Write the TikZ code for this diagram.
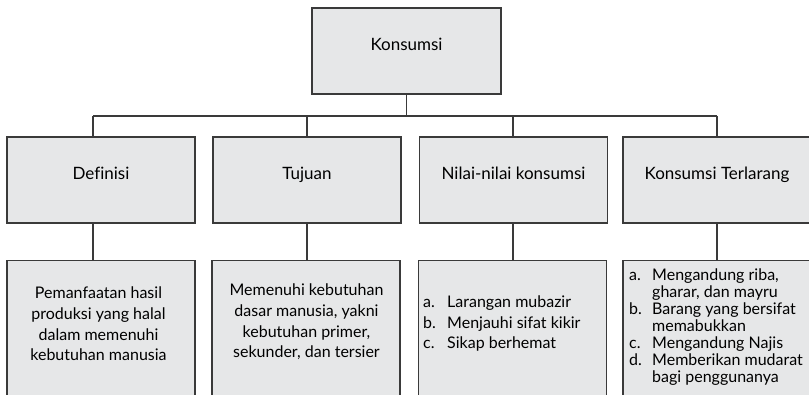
\documentclass[tikz,border=0pt]{standalone}
\usepackage{fontspec}
\setmainfont{Lato}[Ligatures=NoCommon]
\definecolor{boxfill}{RGB}{230,231,232}
\definecolor{boxline}{RGB}{58,58,58}
\tikzset{
  box/.style={draw=boxline, fill=boxfill, line width=1.2pt, minimum width=188pt,
    minimum height=86pt, inner sep=0pt, text height=12pt, text depth=13pt,
    font=\fontsize{17}{20}\selectfont},
  isibox/.style={box, minimum height=140pt, anchor=north},
  isi/.style={inner sep=0pt, align=center},
  link/.style={draw=boxline, line width=1.2pt},
}
\begin{document}
\begin{tikzpicture}[x=1pt,y=1pt,yscale=-1,xscale=1,font=\fontsize{16}{20.7}\selectfont]
\useasboundingbox (0,0) rectangle (809,395);
\clip (0,0) rectangle (809,395);
\fill [white] (0,0) rectangle (809,395);
% tingkat atas
\node [box, minimum width=189pt] (kons) at (406.5,51) {Konsumsi};
% tingkat kedua
\node [box] (def) at (101,180) {Definisi};
\node [box] (tuj) at (307,180) {Tujuan};
\node [box] (nil) at (513.5,180) {Nilai-nilai konsumsi};
\node [box] (lar) at (717,180) {Konsumsi Terlarang};
% tingkat ketiga
\node [isibox] (def2) at (101,260) {};
\node [isibox] (tuj2) at (306,260) {};
\node [isibox] (nil2) at (512.5,260) {};
\node [isibox] (lar2) at (717,260) {};
\coordinate (c1) at (93,116);
\coordinate (c2) at (307,116);
\coordinate (c3) at (513,116);
\coordinate (c4) at (717,116);
\draw [link] (c1) -- (c4);
\draw [link] (kons.south) -- (kons.south |- c1);
\draw [link] (c1) -- (c1 |- def.north);
\draw [link] (c2) -- (c2 |- tuj.north);
\draw [link] (c3) -- (c3 |- nil.north);
\draw [link] (c4) -- (c4 |- lar.north);
\draw [link] (def.south -| c1) -- (def2.north -| c1);
\draw [link] (tuj.south -| c2) -- (tuj2.north -| c2);
\draw [link] (nil.south -| c3) -- (nil2.north -| c3);
\draw [link] (lar.south -| c4) -- (lar2.north -| c4);
% isi
\node [isi] (t1) at (98.5,324) {Pemanfaatan hasil\\produksi yang halal\\dalam memenuhi\\kebutuhan manusia};
\node [isi] (t2) at (306.5,322) {Memenuhi kebutuhan\\dasar manusia, yakni\\kebutuhan primer,\\sekunder, dan tersier};
\node [isi, anchor=west] (t3) at (423,324) {\begin{tabular}{@{}p{24pt}@{}l@{}}
a. & Larangan mubazir\\ b. & Menjauhi sifat kikir\\ c. & Sikap berhemat\end{tabular}};
\node [isi, anchor=west, font=\fontsize{16}{17}\selectfont] (t4) at (629,328) {\begin{tabular}{@{}p{23pt}@{}l@{}}
a. & Mengandung riba,\\ & gharar, dan mayru\\ b. & Barang yang bersifat\\ & memabukkan\\
c. & Mengandung Najis\\ d. & Memberikan mudarat\\ & bagi penggunanya\end{tabular}};
\end{tikzpicture}
\end{document}
